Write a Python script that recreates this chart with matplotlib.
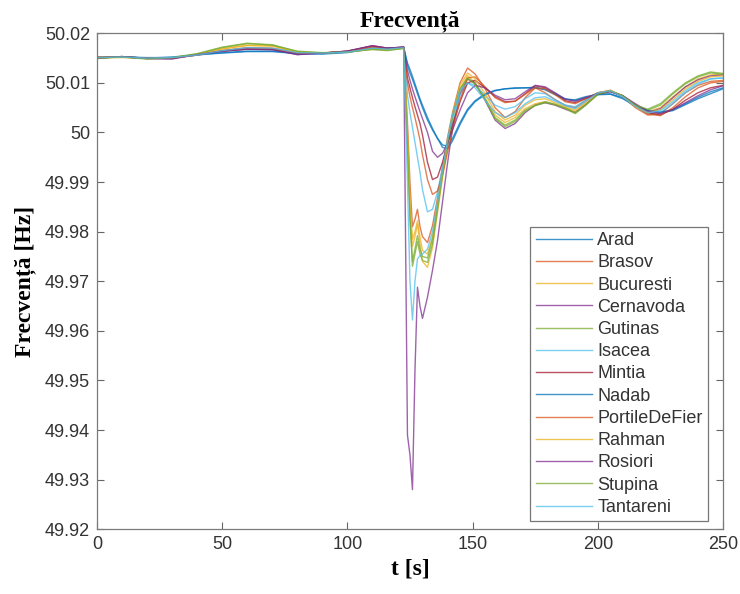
import matplotlib.pyplot as plt
from matplotlib.ticker import FuncFormatter

plt.rcParams['font.family'] = ['Liberation Sans', 'DejaVu Sans']

# time [s]
t = [0, 10, 20, 30, 40, 50, 60, 70, 80, 90, 100, 110, 116, 122.5,
     124, 125, 126, 127, 128, 129, 130, 132, 134, 136, 138, 140, 142,
     145, 148, 151, 155, 159, 163, 167, 171, 175, 179, 183, 187, 191, 195,
     200, 205, 210, 215, 220, 225, 230, 235, 240, 245, 250]

# frequency [Hz] per bus
arad = [50.0152, 50.0152, 50.0151, 50.0151, 50.0156, 50.0161, 50.0164, 50.0164, 50.0160, 50.0159, 50.0162, 50.0170, 50.0169, 50.0172,
        50.0135, 50.0120, 50.0107, 50.0093, 50.0078, 50.0064, 50.0050, 50.0025, 50.0005, 49.9988, 49.9975, 49.9972, 49.9988,
        50.0020, 50.0047, 50.0064, 50.0078, 50.0085, 50.0088, 50.0090, 50.0090, 50.0091, 50.0086, 50.0076, 50.0067, 50.0066, 50.0072,
        50.0077, 50.0078, 50.0070, 50.0055, 50.0045, 50.0040, 50.0044, 50.0056, 50.0068, 50.0078, 50.0088]
brasov = [50.0151, 50.0152, 50.0150, 50.0150, 50.0156, 50.0165, 50.0171, 50.0170, 50.0161, 50.0160, 50.0163, 50.0171, 50.0168, 50.0171,
          50.0020, 49.9900, 49.9810, 49.9825, 49.9845, 49.9810, 49.9790, 49.9778, 49.9812, 49.9868, 49.9930, 49.9990, 50.0040,
          50.0100, 50.0130, 50.0118, 50.0088, 50.0050, 50.0030, 50.0042, 50.0070, 50.0090, 50.0080, 50.0066, 50.0055, 50.0050, 50.0064,
          50.0080, 50.0085, 50.0072, 50.0050, 50.0035, 50.0038, 50.0058, 50.0080, 50.0095, 50.0103, 50.0105]
bucuresti = [50.0150, 50.0151, 50.0150, 50.0150, 50.0157, 50.0169, 50.0176, 50.0175, 50.0162, 50.0160, 50.0163, 50.0169, 50.0167, 50.0170,
             49.9990, 49.9850, 49.9770, 49.9790, 49.9815, 49.9775, 49.9740, 49.9728, 49.9768, 49.9838, 49.9908, 49.9972, 50.0028,
             50.0088, 50.0115, 50.0100, 50.0070, 50.0035, 50.0020, 50.0030, 50.0048, 50.0058, 50.0062, 50.0056, 50.0050, 50.0042, 50.0058,
             50.0078, 50.0084, 50.0072, 50.0052, 50.0042, 50.0050, 50.0072, 50.0092, 50.0108, 50.0116, 50.0118]
cernavoda = [50.0150, 50.0153, 50.0149, 50.0148, 50.0157, 50.0164, 50.0168, 50.0167, 50.0157, 50.0160, 50.0164, 50.0175, 50.0170, 50.0172,
             49.9390, 49.9350, 49.9280, 49.9520, 49.9688, 49.9650, 49.9625, 49.9668, 49.9722, 49.9782, 49.9860, 49.9938, 50.0008,
             50.0078, 50.0108, 50.0100, 50.0065, 50.0025, 50.0008, 50.0018, 50.0040, 50.0055, 50.0060, 50.0055, 50.0047, 50.0040, 50.0055,
             50.0078, 50.0084, 50.0073, 50.0052, 50.0040, 50.0048, 50.0070, 50.0092, 50.0106, 50.0114, 50.0116]
gutinas = [50.0149, 50.0153, 50.0149, 50.0150, 50.0158, 50.0171, 50.0179, 50.0177, 50.0163, 50.0160, 50.0163, 50.0167, 50.0165, 50.0170,
           49.9980, 49.9830, 49.9730, 49.9755, 49.9780, 49.9755, 49.9742, 49.9738, 49.9775, 49.9845, 49.9915, 49.9978, 50.0030,
           50.0085, 50.0108, 50.0098, 50.0068, 50.0030, 50.0015, 50.0025, 50.0045, 50.0055, 50.0062, 50.0057, 50.0050, 50.0040, 50.0055,
           50.0076, 50.0083, 50.0073, 50.0054, 50.0045, 50.0055, 50.0078, 50.0098, 50.0112, 50.0120, 50.0117]
isacea = [50.0151, 50.0152, 50.0150, 50.0151, 50.0156, 50.0164, 50.0170, 50.0169, 50.0161, 50.0160, 50.0162, 50.0170, 50.0168, 50.0171,
          50.0075, 50.0040, 50.0010, 49.9980, 49.9950, 49.9920, 49.9885, 49.9840, 49.9845, 49.9880, 49.9930, 49.9975, 50.0020,
          50.0075, 50.0100, 50.0095, 50.0075, 50.0055, 50.0047, 50.0052, 50.0068, 50.0080, 50.0078, 50.0066, 50.0055, 50.0052, 50.0065,
          50.0080, 50.0084, 50.0072, 50.0052, 50.0038, 50.0040, 50.0058, 50.0080, 50.0097, 50.0108, 50.0110]
mintia = [50.0151, 50.0152, 50.0150, 50.0150, 50.0157, 50.0164, 50.0168, 50.0168, 50.0159, 50.0160, 50.0164, 50.0174, 50.0170, 50.0172,
          50.0110, 50.0090, 50.0070, 50.0052, 50.0035, 50.0018, 49.9995, 49.9940, 49.9905, 49.9910, 49.9940, 49.9978, 50.0015,
          50.0062, 50.0100, 50.0105, 50.0090, 50.0072, 50.0062, 50.0063, 50.0078, 50.0094, 50.0090, 50.0078, 50.0064, 50.0060, 50.0068,
          50.0078, 50.0083, 50.0074, 50.0056, 50.0040, 50.0035, 50.0047, 50.0065, 50.0080, 50.0090, 50.0095]
nadab = [50.0151, 50.0153, 50.0150, 50.0152, 50.0157, 50.0160, 50.0163, 50.0163, 50.0159, 50.0158, 50.0161, 50.0169, 50.0170, 50.0171,
         50.0140, 50.0127, 50.0113, 50.0098, 50.0083, 50.0068, 50.0055, 50.0030, 50.0008, 49.9988, 49.9970, 49.9967, 49.9983,
         50.0016, 50.0044, 50.0062, 50.0076, 50.0084, 50.0088, 50.0089, 50.0090, 50.0090, 50.0087, 50.0078, 50.0068, 50.0064, 50.0070,
         50.0076, 50.0077, 50.0068, 50.0053, 50.0044, 50.0041, 50.0046, 50.0058, 50.0071, 50.0082, 50.0090]
portile = [50.0152, 50.0152, 50.0150, 50.0150, 50.0156, 50.0165, 50.0170, 50.0169, 50.0160, 50.0160, 50.0163, 50.0172, 50.0169, 50.0171,
           50.0100, 50.0072, 50.0050, 50.0030, 50.0008, 49.9985, 49.9955, 49.9905, 49.9875, 49.9882, 49.9915, 49.9960, 50.0005,
           50.0065, 50.0110, 50.0112, 50.0092, 50.0070, 50.0060, 50.0063, 50.0077, 50.0090, 50.0088, 50.0076, 50.0062, 50.0058, 50.0068,
           50.0080, 50.0084, 50.0074, 50.0054, 50.0037, 50.0034, 50.0050, 50.0072, 50.0090, 50.0100, 50.0103]
rahman = [50.0151, 50.0152, 50.0149, 50.0150, 50.0157, 50.0168, 50.0175, 50.0174, 50.0162, 50.0160, 50.0162, 50.0168, 50.0167, 50.0170,
          50.0000, 49.9860, 49.9785, 49.9800, 49.9822, 49.9790, 49.9762, 49.9755, 49.9790, 49.9855, 49.9920, 49.9982, 50.0035,
          50.0095, 50.0120, 50.0108, 50.0078, 50.0042, 50.0025, 50.0035, 50.0055, 50.0066, 50.0068, 50.0060, 50.0052, 50.0045, 50.0060,
          50.0079, 50.0085, 50.0073, 50.0051, 50.0040, 50.0046, 50.0066, 50.0088, 50.0103, 50.0112, 50.0114]
rosiori = [50.0150, 50.0153, 50.0149, 50.0149, 50.0157, 50.0164, 50.0168, 50.0167, 50.0157, 50.0160, 50.0164, 50.0175, 50.0170, 50.0172,
           50.0125, 50.0105, 50.0088, 50.0072, 50.0057, 50.0042, 50.0028, 50.0000, 49.9962, 49.9950, 49.9958, 49.9978, 50.0005,
           50.0045, 50.0080, 50.0095, 50.0090, 50.0075, 50.0066, 50.0068, 50.0082, 50.0095, 50.0092, 50.0080, 50.0067, 50.0063, 50.0070,
           50.0078, 50.0082, 50.0074, 50.0058, 50.0043, 50.0038, 50.0046, 50.0060, 50.0074, 50.0086, 50.0094]
stupina = [50.0150, 50.0152, 50.0148, 50.0151, 50.0159, 50.0172, 50.0180, 50.0176, 50.0164, 50.0161, 50.0162, 50.0168, 50.0166, 50.0169,
           49.9975, 49.9825, 49.9740, 49.9765, 49.9792, 49.9765, 49.9750, 49.9747, 49.9785, 49.9850, 49.9918, 49.9980, 50.0033,
           50.0088, 50.0110, 50.0097, 50.0066, 50.0028, 50.0012, 50.0022, 50.0043, 50.0054, 50.0060, 50.0056, 50.0048, 50.0038, 50.0054,
           50.0077, 50.0084, 50.0074, 50.0055, 50.0047, 50.0058, 50.0080, 50.0100, 50.0114, 50.0122, 50.0119]
tantareni = [50.0151, 50.0152, 50.0150, 50.0151, 50.0156, 50.0165, 50.0171, 50.0170, 50.0161, 50.0160, 50.0162, 50.0170, 50.0168, 50.0171,
             49.9900, 49.9700, 49.9622, 49.9700, 49.9745, 49.9752, 49.9755, 49.9765, 49.9800, 49.9860, 49.9925, 49.9985, 50.0035,
             50.0085, 50.0100, 50.0090, 50.0065, 50.0040, 50.0030, 50.0040, 50.0058, 50.0070, 50.0072, 50.0063, 50.0054, 50.0048, 50.0062,
             50.0080, 50.0084, 50.0072, 50.0053, 50.0040, 50.0044, 50.0062, 50.0084, 50.0100, 50.0108, 50.0110]

names = ["Arad", "Brasov", "Bucuresti", "Cernavoda", "Gutinas", "Isacea", "Mintia",
         "Nadab", "PortileDeFier", "Rahman", "Rosiori", "Stupina", "Tantareni"]
series = [arad, brasov, bucuresti, cernavoda, gutinas, isacea, mintia,
          nadab, portile, rahman, rosiori, stupina, tantareni]

x_ticks = [0, 50, 100, 150, 200, 250]
y_ticks = [49.92, 49.93, 49.94, 49.95, 49.96, 49.97, 49.98, 49.99, 50.0, 50.01, 50.02]

# matlab default line colours
colors = ["#0072BD", "#D95319", "#EDB120", "#7E2F8E", "#77AC30", "#4DBEEE", "#A2142F"]


fig = plt.figure(figsize=(7.4, 5.94), dpi=100)
ax = fig.add_axes([0.131, 0.109, 0.846, 0.835])

for i, (name, vals) in enumerate(zip(names, series)):
    ax.plot(t, vals, color=colors[i % 7], lw=1.0, alpha=0.75, label=name)

ax.set_xlim(0, 250)
ax.set_ylim(49.92, 50.02)
ax.set_xticks(x_ticks)
ax.set_yticks(y_ticks)
ax.yaxis.set_major_formatter(
    FuncFormatter(lambda v, p: f"{v:.2f}".rstrip("0").rstrip("."))
)

ax.tick_params(direction="in", top=True, right=True, length=5, width=0.8,
               color="#666666", labelcolor="#333333", labelsize=13, pad=5)
for sp in ax.spines.values():
    sp.set_color("#7a7a7a")
    sp.set_linewidth(0.9)

serif = dict(family=["Liberation Serif", "DejaVu Serif"], weight="bold", size=17)
ax.set_title("Frecvență", pad=5, **serif)
ax.set_ylabel("Frecvență [Hz]", labelpad=6, **serif)
ax.set_xlabel("t [s]", labelpad=4, **serif)

leg = ax.legend(loc="lower right", bbox_to_anchor=(0.976, 0.016), fontsize=13,
                handlelength=3.1, handletextpad=0.3, labelspacing=0.29,
                borderpad=0.3, borderaxespad=0, fancybox=False,
                edgecolor="#777777", framealpha=1)
leg.get_frame().set_linewidth(0.9)
for txt in leg.get_texts():
    txt.set_color("#333333")

fig.savefig("out.png", dpi=100)
